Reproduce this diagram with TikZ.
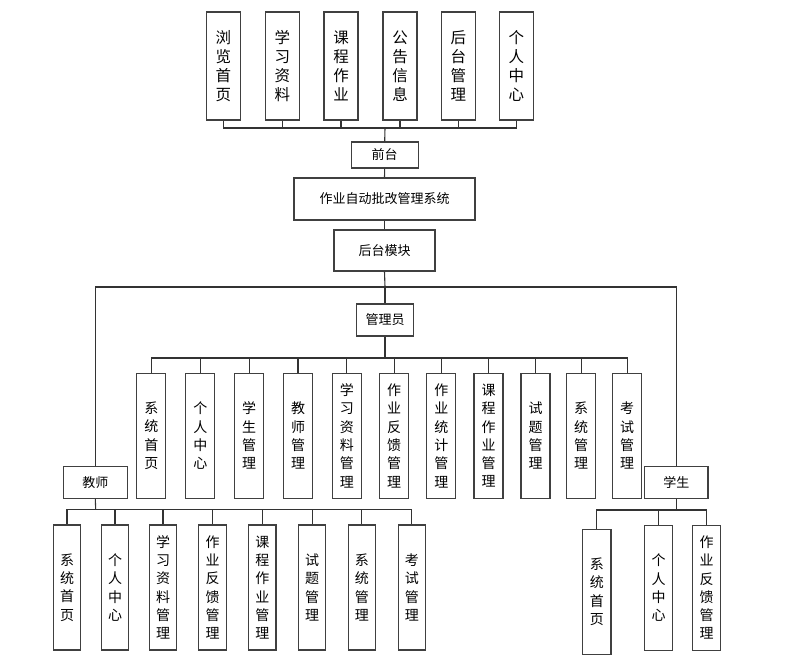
\documentclass[tikz,border=0pt]{standalone}
\usepackage{fontspec}
\setmainfont{Noto Sans CJK SC}
\usetikzlibrary{positioning}
\begin{document}
\begin{tikzpicture}[x=1pt,y=-1pt,
    box node/.style={draw=black!75,line width=1.1pt,fill=white,inner sep=0pt,align=center,font=\fontsize{13}{15}\selectfont},
    top node/.style={box node,minimum width=34pt,minimum height=108pt,font=\fontsize{15.5}{19}\selectfont},
    leaf node/.style={box node,minimum width=29pt,minimum height=125pt,font=\fontsize{14}{18.3}\selectfont},
    link/.style={-,draw=black!80,line width=1.1pt}]
  \useasboundingbox (0,0) rectangle (798,660);

  % front end
  \foreach \x/\txt [count=\i] in {223.3/浏\\览\\首\\页, 282.3/学\\习\\资\\料, 341/课\\程\\作\\业,
      400/公\\告\\信\\息, 458.3/后\\台\\管\\理, 516.3/个\\人\\中\\心}
    \node[top node] (t\i) at (\x,66) {\txt};
  \node[box node,minimum width=67pt,minimum height=26pt] (qt) at (384.7,155) {前台};
  \node[box node,minimum width=181pt,minimum height=42pt] (sys) at (384.5,199) {作业自动批改管理系统};
  \node[box node,minimum width=101pt,minimum height=41pt] (ht) at (384.5,250.5) {后台模块};

  % roles
  \node[box node,minimum width=56.6pt,minimum height=32pt] (gly) at (385,320) {管理员};
  \node[box node,minimum width=64pt,minimum height=31.6pt] (js) at (95.3,482.5) {教师};
  \node[box node,minimum width=63.3pt,minimum height=31.6pt] (xs) at (676.3,482.5) {学生};

  % admin
  \foreach \x/\txt [count=\i] in {151.3/系\\统\\首\\页, 200.3/个\\人\\中\\心, 249.2/学\\生\\管\\理,
      298/教\\师\\管\\理, 346.8/学\\习\\资\\料\\管\\理, 394.2/作\\业\\反\\馈\\管\\理,
      441.3/作\\业\\统\\计\\管\\理, 488.5/课\\程\\作\\业\\管\\理, 535.5/试\\题\\管\\理,
      581.2/系\\统\\管\\理, 627.2/考\\试\\管\\理}
    \node[leaf node] (a\i) at (\x,435.8) {\txt};

  % teacher
  \foreach \x/\txt [count=\i] in {67/系\\统\\首\\页, 115/个\\人\\中\\心, 163/学\\习\\资\\料\\管\\理,
      212.5/作\\业\\反\\馈\\管\\理, 262.3/课\\程\\作\\业\\管\\理, 312.2/试\\题\\管\\理,
      361.8/系\\统\\管\\理, 411.8/考\\试\\管\\理}
    \node[leaf node,minimum width=27.3pt] (j\i) at (\x,587.5) {\txt};

  % student
  \node[leaf node,minimum width=28.4pt] (s1) at (596.8,591.8) {系\\统\\首\\页};
  \node[leaf node,minimum width=28.4pt] (s2) at (658.5,587.7) {个\\人\\中\\心};
  \node[leaf node,minimum width=28.4pt] (s3) at (706.5,587.7) {作\\业\\反\\馈\\管\\理};

  % connectors
  \coordinate (qbus) at (385,128);
  \coordinate (hbus) at (385,287);
  \coordinate (gbus) at (385,358);
  \coordinate (jbus) at (95.7,509.5);
  \coordinate (xbus) at (676.3,510);
  \foreach \i in {1,...,6}
    \draw[link] (t\i.south) |- (qbus);
  \draw[link] (qbus) -- (qt.north);
  \draw[link] (qt.south) -- (sys.north);
  \draw[link] (sys.south) -- (ht.north);
  \draw[link] (ht.south) -- (hbus);
  \draw[link] (hbus) -- (gly.north);
  \draw[link] (js.north) |- (hbus) -| (xs.north);
  \draw[link] (gly.south) -- (gbus);
  \foreach \i in {1,...,11}
    \draw[link] (a\i.north) |- (gbus);
  \draw[link] (js.south) -- (jbus);
  \foreach \i in {1,...,8}
    \draw[link] (j\i.north) |- (jbus);
  \draw[link] (xs.south) -- (xbus);
  \foreach \i in {1,...,3}
    \draw[link] (s\i.north) |- (xbus);
\end{tikzpicture}
\end{document}
